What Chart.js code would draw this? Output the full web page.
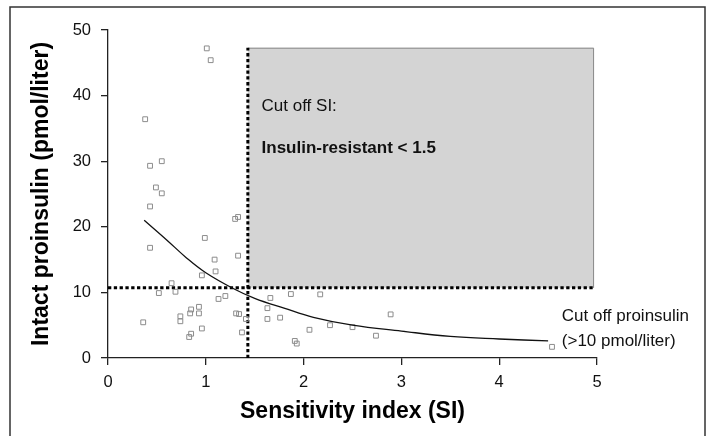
<!DOCTYPE html>
<html>
<head>
<meta charset="utf-8">
<script src="https://cdn.jsdelivr.net/npm/chart.js@4"></script>
<style>
  html, body { margin: 0; padding: 0; background: #fff; }
  #wrap { width: 711px; height: 436px; position: relative; }
</style>
</head>
<body>
<div id="wrap"><canvas id="scatter_chart" width="711" height="436"></canvas></div>
<script>
// measured subjects: sensitivity index vs intact proinsulin
var siValues = [1.01, 1.05, 0.38, 0.43, 0.55, 0.49, 0.55, 0.43, 1.30, 1.33,
                0.99, 0.43, 1.33, 1.09, 1.10, 0.96, 0.65, 0.52, 0.69, 1.13,
                1.20, 0.85, 0.93, 0.84, 0.93, 0.74, 0.74, 0.36, 1.31, 1.34,
                1.41, 0.96, 1.37, 0.85, 0.83, 1.66, 1.87, 2.17, 1.63, 1.63,
                1.76, 2.06, 2.27, 2.50, 2.74, 2.89, 1.91, 1.93, 4.54];
var proinsulinValues = [47.2, 45.4, 36.4, 29.3, 30.0, 26.0, 25.1, 23.1, 21.2, 21.5,
                        18.3, 16.8, 15.6, 15.0, 13.2, 12.6, 11.4, 9.9, 10.1, 9.0,
                        9.45, 7.4, 7.8, 6.8, 6.8, 6.35, 5.6, 5.44, 6.8, 6.7,
                        5.95, 4.5, 3.9, 3.7, 3.2, 9.15, 9.75, 9.7, 7.6, 5.95,
                        6.15, 4.3, 5.0, 4.7, 3.4, 6.65, 2.6, 2.2, 1.7];

// fitted curve
var fitSI = [0.37, 0.6, 0.8, 1.0, 1.28, 1.5, 1.8, 2.1, 2.5, 3.0, 3.5, 4.0, 4.5];
var fitProinsulin = [21.0, 18.0, 15.3, 13.0, 10.6, 9.1, 7.6, 6.2, 5.0, 4.1, 3.3, 2.9, 2.6];

// cut offs and shaded region
var cutoffSI = 1.43;
var cutoffProinsulin = 10.7;
var boxRight = 4.97;
var boxTop = 47.3;

var xTicks = [0, 1, 2, 3, 4, 5];
var yTicks = [0, 10, 20, 30, 40, 50];

var fontFamily = '"Liberation Sans", Arial, Helvetica, sans-serif';

var scatterPoints = siValues.map(function (x, i) { return { x: x, y: proinsulinValues[i] }; });
var fitPoints = fitSI.map(function (x, i) { return { x: x, y: fitProinsulin[i] }; });

var notes = [
    { x: 1.57, y: 38.3, text: 'Cut off SI:', bold: false },
    { x: 1.57, y: 32.0, text: 'Insulin-resistant < 1.5', bold: true },
    { x: 4.64, y: 6.3, text: 'Cut off proinsulin', bold: false },
    { x: 4.64, y: 2.6, text: '(>10 pmol/liter)', bold: false }
];

var shadePlugin = {
    id: 'shade',
    beforeDatasetsDraw: function (chart) {
        var ctx = chart.ctx;
        var xs = chart.scales.x, ys = chart.scales.y;
        var l = xs.getPixelForValue(cutoffSI), r = xs.getPixelForValue(boxRight);
        var t = ys.getPixelForValue(boxTop), b = ys.getPixelForValue(cutoffProinsulin);
        ctx.save();
        ctx.fillStyle = '#d4d4d4';
        ctx.fillRect(l, t, r - l, b - t);
        ctx.strokeStyle = '#8a8a8a';
        ctx.lineWidth = 1;
        ctx.beginPath();
        ctx.moveTo(l, t + 0.5);
        ctx.lineTo(r - 0.5, t + 0.5);
        ctx.lineTo(r - 0.5, b);
        ctx.stroke();
        ctx.restore();
    },
    afterDraw: function (chart) {
        var ctx = chart.ctx;
        var xs = chart.scales.x, ys = chart.scales.y;
        ctx.save();
        ctx.fillStyle = '#111';
        ctx.textBaseline = 'middle';
        ctx.textAlign = 'left';
        notes.forEach(function (n) {
            ctx.font = (n.bold ? 'bold ' : '') + '17px ' + fontFamily;
            ctx.fillText(n.text, xs.getPixelForValue(n.x), ys.getPixelForValue(n.y));
        });
        // outer frame of the figure
        ctx.strokeStyle = '#333';
        ctx.lineWidth = 1.5;
        ctx.strokeRect(10, 7, 695, 440);
        ctx.restore();
    }
};

var dotted = {
    borderColor: '#000',
    borderWidth: 3,
    borderDash: [3.3, 2.5],
    pointRadius: 0,
    fill: false,
    tension: 0
};

var chart = new Chart(document.getElementById('scatter_chart'), {
    type: 'scatter',
    data: {
        datasets: [
            {
                label: 'Fit',
                type: 'line',
                data: fitPoints,
                borderColor: '#111',
                borderWidth: 1.3,
                pointRadius: 0,
                tension: 0.4,
                fill: false,
                order: 0
            },
            {
                label: 'Subjects',
                data: scatterPoints,
                pointStyle: 'rect',
                pointRadius: 3.4,
                pointBorderWidth: 1,
                borderColor: '#8c8c8c',
                backgroundColor: 'rgba(255,255,255,0)',
                order: 1
            },
            Object.assign({
                label: 'Cut off SI',
                type: 'line',
                data: [{ x: cutoffSI, y: 0 }, { x: cutoffSI, y: boxTop }],
                order: 2
            }, dotted),
            Object.assign({
                label: 'Cut off proinsulin',
                type: 'line',
                data: [{ x: 0, y: cutoffProinsulin }, { x: boxRight, y: cutoffProinsulin }],
                order: 2
            }, dotted)
        ]
    },
    options: {
        responsive: false,
        animation: false,
        layout: {
            padding: { top: 30, right: 114, bottom: 0, left: 0 }
        },
        plugins: {
            legend: { display: false },
            tooltip: { enabled: false }
        },
        scales: {
            x: {
                type: 'linear',
                min: 0,
                max: 5,
                afterFit: function (scale) { scale.height = 78; },
                afterBuildTicks: function (scale) {
                    scale.ticks = xTicks.map(function (v) { return { value: v }; });
                },
                border: { display: true, color: '#222', width: 1.3 },
                grid: { drawOnChartArea: false, drawTicks: true, tickLength: 7, color: '#222', lineWidth: 1.3 },
                ticks: {
                    color: '#111',
                    padding: 8,
                    font: { family: fontFamily, size: 16.5 }
                },
                title: {
                    display: true,
                    text: 'Sensitivity index (SI)',
                    color: '#000',
                    font: { family: fontFamily, size: 23, weight: 'bold' },
                    padding: { top: 0, bottom: 11 }
                }
            },
            y: {
                type: 'linear',
                min: 0,
                max: 50,
                afterFit: function (scale) { scale.width = 108; },
                afterBuildTicks: function (scale) {
                    scale.ticks = yTicks.map(function (v) { return { value: v }; });
                },
                border: { display: true, color: '#222', width: 1.3 },
                grid: { drawOnChartArea: false, drawTicks: true, tickLength: 7, color: '#222', lineWidth: 1.3 },
                ticks: {
                    color: '#111',
                    padding: 10,
                    font: { family: fontFamily, size: 16.5 }
                },
                title: {
                    display: true,
                    text: 'Intact proinsulin (pmol/liter)',
                    color: '#000',
                    font: { family: fontFamily, size: 23, weight: 'bold' },
                    padding: { top: 28, bottom: 0 }
                }
            }
        }
    },
    plugins: [shadePlugin]
});
</script>
</body>
</html>
